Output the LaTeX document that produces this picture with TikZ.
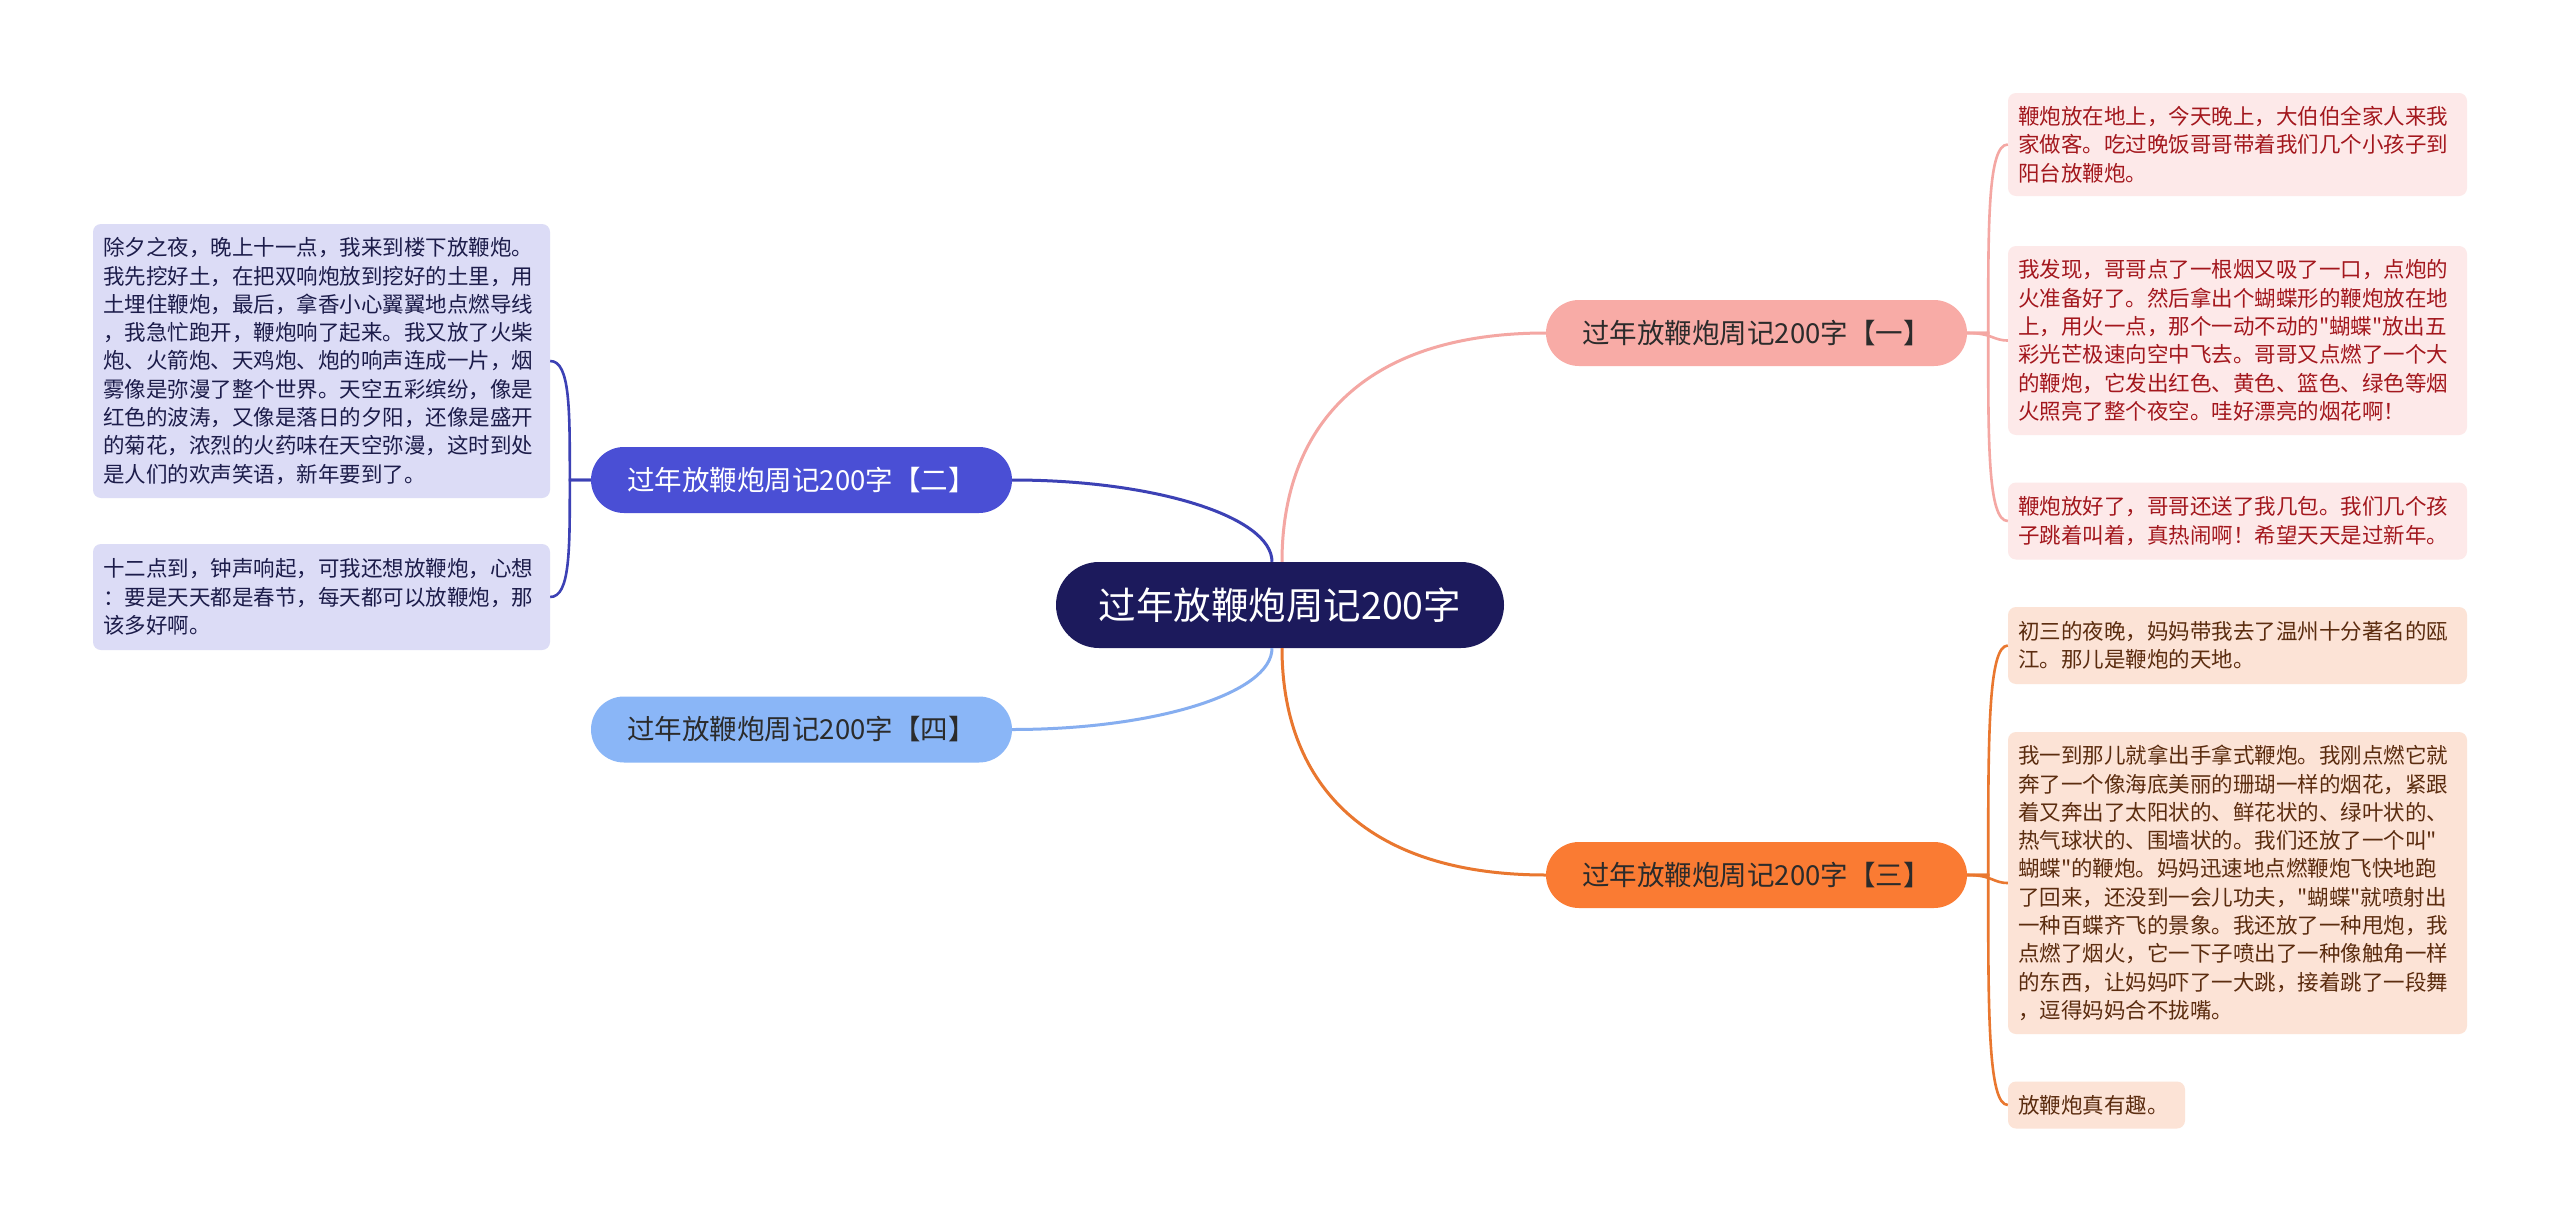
\documentclass[tikz,border=0pt]{standalone}
\usepackage{fontspec}
\newfontfamily\cjkfont{Noto Sans CJK SC}
\definecolor{cnavy}{HTML}{1C1A5C}
\definecolor{cviolet}{HTML}{4A4FD5}
\definecolor{clblue}{HTML}{8AB6F7}
\definecolor{cpinkb}{HTML}{F8ABA6}
\definecolor{corangeb}{HTML}{FA7B33}
\definecolor{cpinkleaf}{HTML}{FDE9E9}
\definecolor{corangeleaf}{HTML}{FCE3D6}
\definecolor{cvioletleaf}{HTML}{DCDCF6}
\definecolor{tred}{HTML}{A3171D}
\definecolor{tbrown}{HTML}{5B2C0F}
\definecolor{tnavy}{HTML}{1C1C4A}
\definecolor{tdark}{HTML}{2B2B2B}
\definecolor{lpink}{HTML}{F4A7A3}
\definecolor{lorange}{HTML}{E9772F}
\definecolor{lviolet}{HTML}{3C41B5}
\definecolor{llblue}{HTML}{86AEF0}
\begin{document}
\begin{tikzpicture}[x=1pt,y=-1pt,
  rootbox/.style={fill=cnavy, text=white, rounded corners=43pt, minimum width=448pt, minimum height=86pt, inner sep=0pt, font=\cjkfont\fontsize{37.5}{44}\selectfont},
  branchbox/.style={rounded corners=33pt, minimum width=421pt, minimum height=66pt, inner sep=0pt, font=\cjkfont\fontsize{27.5}{32}\selectfont},
  leafbox/.style={rounded corners=8pt, inner xsep=10pt, inner ysep=0pt, align=left, text width=437pt, font=\cjkfont\fontsize{21.5}{28.3}\selectfont},
  mainline/.style={line width=3pt},
  leafline/.style={line width=2.6pt}
]
\fill[white] (0,0) rectangle (2560,1223);
\useasboundingbox (0,0) rectangle (2560,1223);

% root
\node[rootbox] (c) at (1280,605) {过年放鞭炮周记200字};

% branches
\node[branchbox, fill=cpinkb, text=tdark] (b1) at (1756.5,333) {过年放鞭炮周记200字【一】};
\node[branchbox, fill=corangeb, text=tdark] (b3) at (1756.5,875) {过年放鞭炮周记200字【三】};
\node[branchbox, fill=cviolet, text=white] (b2) at (801.5,480) {过年放鞭炮周记200字【二】};
\node[branchbox, fill=clblue, text=tdark] (b4) at (801.5,729.5) {过年放鞭炮周记200字【四】};

% right upper leaves
\node[leafbox, fill=cpinkleaf, text=tred, text width=439pt, minimum height=103pt] (r1) at (2237.5,144.5) {鞭炮放在地上，今天晚上，大伯伯全家人来我\\家做客。吃过晚饭哥哥带着我们几个小孩子到\\阳台放鞭炮。};
\node[leafbox, fill=cpinkleaf, text=tred, text width=439pt, minimum height=189pt] (r2) at (2237.5,340.5) {我发现，哥哥点了一根烟又吸了一口，点炮的\\火准备好了。然后拿出个蝴蝶形的鞭炮放在地\\上，用火一点，那个一动不动的"蝴蝶"放出五\\彩光芒极速向空中飞去。哥哥又点燃了一个大\\的鞭炮，它发出红色、黄色、篮色、绿色等烟\\火照亮了整个夜空。哇好漂亮的烟花啊！};
\node[leafbox, fill=cpinkleaf, text=tred, text width=439pt, minimum height=77pt] (r3) at (2237.5,521) {鞭炮放好了，哥哥还送了我几包。我们几个孩\\子跳着叫着，真热闹啊！希望天天是过新年。};

% right lower leaves
\node[leafbox, fill=corangeleaf, text=tbrown, text width=439pt, minimum height=77pt] (r4) at (2237.5,645.5) {初三的夜晚，妈妈带我去了温州十分著名的瓯\\江。那儿是鞭炮的天地。};
\node[leafbox, fill=corangeleaf, text=tbrown, text width=439pt, minimum height=302pt] (r5) at (2237.5,883) {我一到那儿就拿出手拿式鞭炮。我刚点燃它就\\奔了一个像海底美丽的珊瑚一样的烟花，紧跟\\着又奔出了太阳状的、鲜花状的、绿叶状的、\\热气球状的、围墙状的。我们还放了一个叫"\\蝴蝶"的鞭炮。妈妈迅速地点燃鞭炮飞快地跑\\了回来，还没到一会儿功夫，"蝴蝶"就喷射出\\一种百蝶齐飞的景象。我还放了一种甩炮，我\\点燃了烟火，它一下子喷出了一种像触角一样\\的东西，让妈妈吓了一大跳，接着跳了一段舞\\，逗得妈妈合不拢嘴。};
\node[leafbox, fill=corangeleaf, text=tbrown, text width=157pt, minimum height=47pt] (r6) at (2096.5,1105) {放鞭炮真有趣。};

% left leaves
\node[leafbox, fill=cvioletleaf, text=tnavy, minimum height=274pt] (l1) at (321.5,361) {除夕之夜，晚上十一点，我来到楼下放鞭炮。\\我先挖好土，在把双响炮放到挖好的土里，用\\土埋住鞭炮，最后，拿香小心翼翼地点燃导线\\，我急忙跑开，鞭炮响了起来。我又放了火柴\\炮、火箭炮、天鸡炮、炮的响声连成一片，烟\\雾像是弥漫了整个世界。天空五彩缤纷，像是\\红色的波涛，又像是落日的夕阳，还像是盛开\\的菊花，浓烈的火药味在天空弥漫，这时到处\\是人们的欢声笑语，新年要到了。};
\node[leafbox, fill=cvioletleaf, text=tnavy, minimum height=106pt] (l2) at (321.5,597) {十二点到，钟声响起，可我还想放鞭炮，心想\\：要是天天都是春节，每天都可以放鞭炮，那\\该多好啊。};

% main connectors
\draw[mainline, lpink] ([xshift=2pt]c.north) .. controls +(0,-132) and +(-186,0) .. (b1.west);
\draw[mainline, lorange] ([xshift=2pt]c.south) .. controls +(0,130) and +(-186,0) .. (b3.west);
\draw[mainline, lviolet] ([xshift=-8pt]c.north) .. controls +(0,-45) and +(143,0) .. (b2.east);
\draw[mainline, llblue] ([xshift=-8pt]c.south) .. controls +(0,45) and +(143,0) .. (b4.east);

% leaf connectors: branch 1
\draw[leafline, lpink] (b1.east) -- ++(21,0) .. controls +(0,-110) and +(-20,0) .. (r1.west);
\draw[leafline, lpink] (b1.east) .. controls +(25,0) and +(-15,0) .. (r2.west);
\draw[leafline, lpink] (b1.east) -- ++(21,0) .. controls +(0,110) and +(-20,0) .. (r3.west);

% leaf connectors: branch 3
\draw[leafline, lorange] (b3.east) -- ++(21,0) .. controls +(0,-135) and +(-20,0) .. (r4.west);
\draw[leafline, lorange] (b3.east) .. controls +(25,0) and +(-15,0) .. (r5.west);
\draw[leafline, lorange] (b3.east) -- ++(21,0) .. controls +(0,135) and +(-20,0) .. (r6.west);

% leaf connectors: branch 2
\draw[leafline, lviolet] (b2.west) -- ++(-21,0) .. controls +(0,-70) and +(20,0) .. (l1.east);
\draw[leafline, lviolet] (b2.west) -- ++(-21,0) .. controls +(0,70) and +(20,0) .. (l2.east);
\end{tikzpicture}
\end{document}
